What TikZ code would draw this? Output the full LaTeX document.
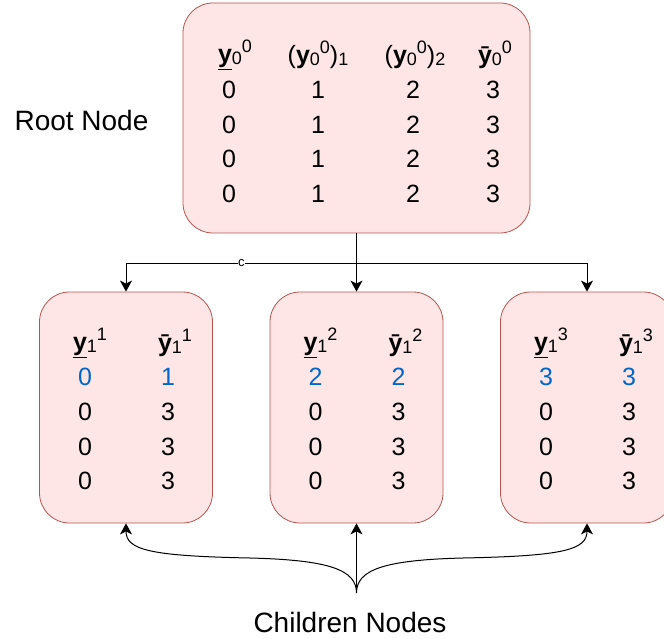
\documentclass[tikz,border=0pt]{standalone}
\usepackage{fontspec}
\setmainfont{Liberation Sans}
\usetikzlibrary{arrows.meta}

\definecolor{boxfill}{HTML}{FFE6E6}
\definecolor{boxline}{HTML}{B85450}
\definecolor{blueval}{HTML}{0066CC}

% Индексы
\newcommand{\sbs}[1]{\raisebox{-2pt}{\fontsize{18}{18}\selectfont #1}}
\newcommand{\sps}[1]{\raisebox{10.5pt}{\fontsize{18}{18}\selectfont #1}}
% Нижняя и верхняя границы
\newcommand{\ylow}[2]{\underline{\textbf{y}}\sbs{#1}\sps{#2}}
\newcommand{\yupp}[2]{\textbf{\={y}}\sbs{#1}\sps{#2}}

\begin{document}
\begin{tikzpicture}[
        x=1pt,y=-1pt
        ,box/.style={draw=boxline,fill=boxfill,line width=0.8pt,rounded corners=30pt,inner sep=0pt}
        ,cell/.style={font=\fontsize{25}{30}\selectfont,inner sep=0pt}
        ,lbl/.style={font=\fontsize{28}{34}\selectfont,inner sep=0pt}
        ,conn/.style={-{Stealth[length=11pt,width=12pt,inset=3pt]},line width=1pt}
    ]
    \clip (0,0) rectangle (664,639);
    % Корень
    \node[box,minimum width=347pt,minimum height=230pt] (root) at (356.5,118) {};
    \node[cell] (h1) at (235,55) {\ylow{0}{0}};
    \node[cell] (h2) at (318,55) {(\textbf{y}\sbs{0}\sps{0})\sbs{1}};
    \node[cell] (h3) at (415,55) {(\textbf{y}\sbs{0}\sps{0})\sbs{2}};
    \node[cell] (h4) at (495,55) {\yupp{0}{0}};
    \foreach \r [count=\i] in {90,124.5,159,193.5}
        \foreach \cx/\v [count=\j] in {229/0,318/1,413/2,493/3}
            \node[cell] (root-\i-\j) at (\cx,\r) {\v};
    \node[lbl] (rootlbl) at (81.5,120) {Root Node};
    % Потомки
    \foreach \k/\cx/\vlo/\vhi in {1/126/0/1,2/356.5/2/2,3/587/3/3} {
        \node[box,minimum width=173pt,minimum height=231pt] (c\k) at (\cx,407.5) {};
        \node[cell] (c\k-h1) at (\cx-36,343) {\ylow{1}{\k}};
        \node[cell] (c\k-h2) at (\cx+49,343) {\yupp{1}{\k}};
        \node[cell,text=blueval] (c\k-1-1) at (\cx-41,377) {\vlo};
        \node[cell,text=blueval] (c\k-1-2) at (\cx+42,377) {\vhi};
        \foreach \r [count=\i from 2] in {412,447,481} {
            \node[cell] (c\k-\i-1) at (\cx-41,\r) {0};
            \node[cell] (c\k-\i-2) at (\cx+42,\r) {3};
        }
    }
    % Стрелки вниз
    \coordinate (split) at (356.5,263);
    \draw[conn] (root.south) -- (c2.north);
    \draw[conn] (split) -| node[pos=0.25,fill=white,inner sep=0.3pt,font=\fontsize{13}{14}\selectfont] (cmark) {c} (c1.north);
    \draw[conn] (split) -| (c3.north);
    % Подпись потомков
    \coordinate (brace) at (356.5,593);
    \draw[conn] (brace) -- (c2.south);
    \draw[conn] (brace) .. controls (356.5,570) and (330,560) .. (250,558)
        .. controls (150,556) and (126,550) .. (c1.south);
    \draw[conn] (brace) .. controls (356.5,570) and (383,560) .. (463,558)
        .. controls (563,556) and (587,550) .. (c3.south);
    \node[lbl] (kidslbl) at (350,622) {Children Nodes};
\end{tikzpicture}
\end{document}
